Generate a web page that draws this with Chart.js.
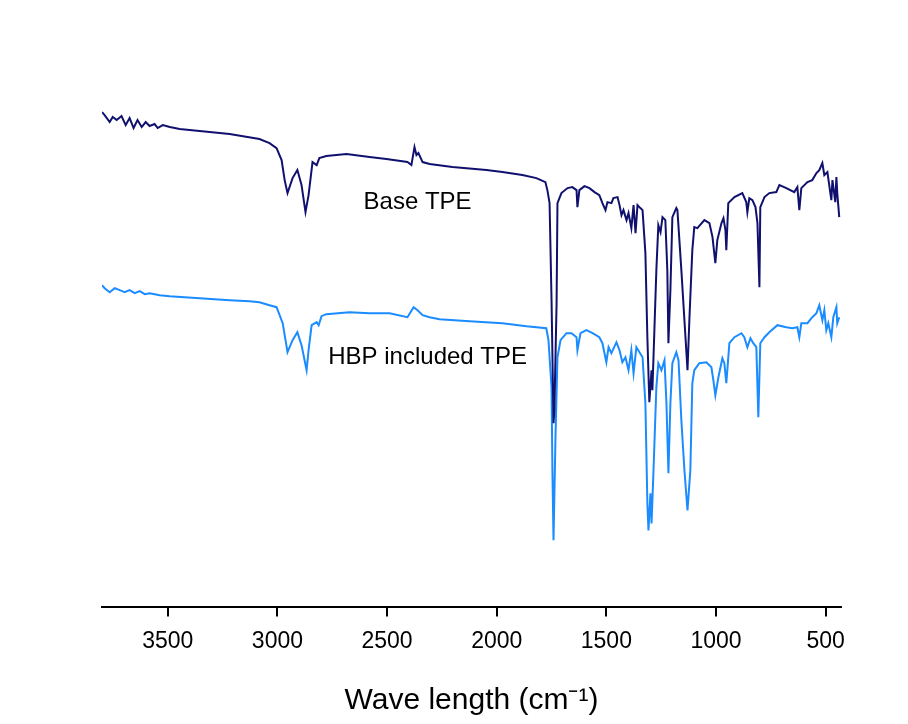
<!DOCTYPE html>
<html>
<head>
<meta charset="utf-8">
<title>FTIR spectra</title>
<script src="https://cdn.jsdelivr.net/npm/chart.js@4.4.1/dist/chart.umd.min.js"></script>
<style>
  html, body { margin: 0; padding: 0; background: #fff; }
</style>
</head>
<body>
<canvas id="ftirChart" width="908" height="724"></canvas>
<script>
// wavenumber (cm-1) and transmittance (arbitrary units)
const waveBase = [3800,3788,3765,3751,3733,3711,3692,3674,3656,3638,3619,3601,3583,3560,3546,3523,3491,3446,3355,3218,3082,3036,3004,2981,2967,2954,2931,2909,2890,2872,2858,2840,2821,2809,2777,2685,2580,2503,2407,2389,2375,2366,2357,2338,2306,2202,2047,1974,1883,1819,1778,1769,1759,1750,1741,1737,1727,1723,1705,1677,1655,1636,1632,1623,1600,1577,1554,1532,1518,1504,1495,1477,1468,1449,1440,1431,1422,1408,1399,1386,1376,1367,1358,1345,1335,1322,1313,1304,1294,1290,1281,1272,1263,1253,1244,1231,1222,1217,1208,1199,1181,1176,1158,1144,1130,1121,1108,1099,1085,1053,1030,1016,1003,994,975,966,957,953,944,916,880,862,857,848,834,820,811,802,798,779,757,725,711,679,643,629,620,611,583,561,542,529,515,506,492,474,469,456,451,447,438];
const transBase = [99.0,98.4,97.0,98.0,97.4,98.2,96.4,97.8,95.8,97.4,96.0,97.0,96.2,96.6,95.8,96.4,96.0,95.6,95.2,94.6,93.6,92.8,91.8,89.4,85.4,82.8,85.8,87.4,84.4,79.0,82.4,89.0,88.4,89.8,90.2,90.6,90.0,89.6,89.0,88.4,92.0,90.4,90.8,89.0,88.6,88.0,87.4,87.0,86.4,85.8,85.0,83.4,80.8,61.4,36.8,39.4,60.8,80.8,82.8,83.8,84.0,83.4,80.0,83.4,84.2,83.8,83.0,82.4,80.8,79.4,81.0,80.8,81.8,82.0,80.4,78.4,79.4,77.4,78.8,75.8,80.4,74.8,80.4,79.8,79.4,70.8,54.0,41.0,47.4,43.4,55.4,67.4,76.4,75.0,78.0,77.4,67.4,52.8,63.4,78.0,79.8,79.4,67.4,57.4,47.4,58.0,71.4,76.0,75.8,77.4,76.8,74.0,68.8,73.4,76.8,77.8,75.4,71.4,80.8,82.0,82.8,81.0,79.0,81.8,81.4,80.0,76.8,64.0,80.0,82.0,82.8,83.0,84.4,83.8,83.0,84.0,79.4,83.8,85.0,85.4,86.8,87.4,88.8,86.4,87.0,81.4,85.4,81.0,86.0,82.8,78.0];

const waveHbp = [3800,3788,3765,3742,3719,3697,3674,3651,3628,3605,3583,3537,3491,3355,3218,3127,3082,3036,3004,2976,2954,2931,2909,2890,2867,2858,2844,2821,2812,2799,2777,2671,2580,2489,2407,2379,2361,2338,2306,2261,2124,1974,1864,1774,1764,1750,1746,1741,1732,1723,1709,1682,1659,1636,1632,1618,1591,1563,1532,1518,1500,1490,1477,1454,1440,1427,1413,1399,1386,1376,1363,1349,1335,1322,1313,1308,1299,1294,1285,1272,1263,1249,1235,1226,1217,1208,1199,1181,1171,1158,1144,1130,1117,1108,1099,1076,1044,1021,1012,1003,989,971,962,953,939,916,884,871,857,843,830,816,807,798,779,757,720,679,652,629,620,611,583,561,542,529,515,506,497,488,474,465,451,447,438];
const transHbp = [64.4,63.8,63.0,63.8,63.4,63.0,63.4,62.8,63.2,62.6,62.8,62.4,62.2,61.8,61.4,61.2,61.0,60.4,60.0,56.8,51.0,53.4,55.0,52.4,47.4,51.4,56.4,57.0,56.4,58.2,58.6,59.0,58.8,58.8,58.0,60.0,59.4,58.4,58.0,57.6,57.2,56.8,56.2,55.8,53.4,44.0,27.4,13.4,34.0,50.0,53.4,54.8,54.8,54.0,51.4,54.8,55.4,54.8,54.0,52.8,49.0,52.0,50.8,53.0,51.4,49.0,50.0,47.4,51.4,46.8,52.0,51.0,50.0,40.8,20.8,15.4,22.8,16.8,27.4,44.0,48.8,47.4,49.4,40.8,26.8,40.8,48.8,51.0,49.4,37.4,27.4,19.4,27.4,44.8,47.4,48.8,49.0,48.0,45.4,42.4,46.0,49.8,48.8,44.8,52.8,54.0,54.8,54.0,52.0,53.8,52.8,52.0,38.0,52.8,54.0,55.0,56.4,56.0,55.8,56.0,54.0,56.8,56.8,58.0,58.8,60.4,57.4,59.4,55.4,56.8,54.0,58.0,60.0,56.8,58.0];

const tickValues = [500, 1000, 1500, 2000, 2500, 3000, 3500];
const seriesNames = ['Base TPE', 'HBP included TPE'];
// where the series names sit, in data units
const labelWave = [2361, 2315];
const labelTrans = [81, 50];

const axisFont = "'Liberation Sans', Arial, sans-serif";

function toPoints(xs, ys) {
    return xs.map((x, i) => ({ x: x, y: ys[i] }));
}

// draws the two series names inside the plot
const seriesLabels = {
    id: 'seriesLabels',
    afterDatasetsDraw(chart) {
        const ctx = chart.ctx;
        const xs = chart.scales.x;
        const ys = chart.scales.y;
        ctx.save();
        ctx.font = '24px ' + axisFont;
        ctx.fillStyle = '#000';
        ctx.textAlign = 'center';
        ctx.textBaseline = 'middle';
        seriesNames.forEach((name, i) => {
            ctx.fillText(name, xs.getPixelForValue(labelWave[i]), ys.getPixelForValue(labelTrans[i]));
        });
        ctx.restore();
    }
};

const ctx = document.getElementById('ftirChart').getContext('2d');
const ftirChart = new Chart(ctx, {
    type: 'line',
    data: {
        datasets: [{
            label: seriesNames[0],
            data: toPoints(waveBase, transBase),
            borderColor: '#10106e',
            borderWidth: 2,
            pointRadius: 0,
            tension: 0,
            fill: false
        }, {
            label: seriesNames[1],
            data: toPoints(waveHbp, transHbp),
            borderColor: '#1a8cff',
            borderWidth: 2,
            pointRadius: 0,
            tension: 0,
            fill: false
        }]
    },
    options: {
        responsive: false,
        animation: false,
        layout: { padding: { left: 102, right: 67, top: 57, bottom: 5 } },
        plugins: {
            legend: { display: false },
            tooltip: { enabled: false }
        },
        scales: {
            x: {
                type: 'linear',
                reverse: true,
                min: 430,
                max: 3800,
                afterBuildTicks: (scale) => {
                    scale.ticks = tickValues.map(v => ({ value: v }));
                },
                grid: { drawOnChartArea: false, drawTicks: true, tickLength: 9, color: '#000', lineWidth: 2 },
                border: { display: true, color: '#000', width: 2 },
                ticks: {
                    color: '#000',
                    padding: 11,
                    maxRotation: 0,
                    autoSkip: false,
                    font: { family: axisFont, size: 23 },
                    callback: (v) => String(v)
                },
                title: {
                    display: true,
                    text: 'Wave length (cm⁻¹)',
                    color: '#000',
                    font: { family: axisFont, size: 30 },
                    padding: { top: 17, bottom: 0 }
                }
            },
            y: {
                display: false,
                min: 0,
                max: 110
            }
        }
    },
    plugins: [seriesLabels]
});
</script>
</body>
</html>
